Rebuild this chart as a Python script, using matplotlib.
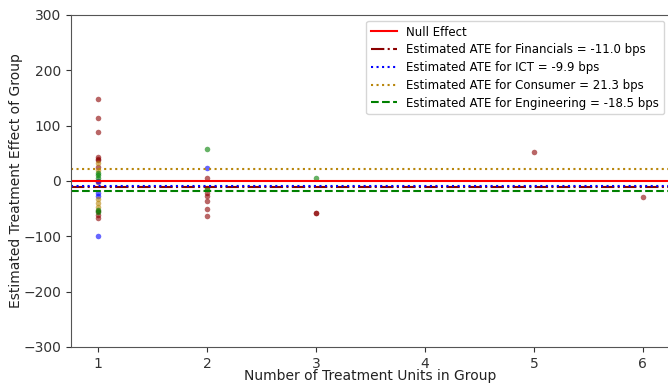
import matplotlib
matplotlib.use("Agg")
import matplotlib.pyplot as plt

# Data
fin_x = [1, 1, 1, 1, 1, 1, 1, 1, 1, 1, 1, 2, 2, 2, 2, 2, 2, 3, 3, 5, 6]
fin_y = [148, 114, 89, 43, 40, 38, 25, -2, -54, -61, -67, 5, -21, -28, -36, -51, -63, -57, -57, 52, -29]
ict_x = [1, 1, 1, 1, 2]
ict_y = [-100, -22, -27, 0, 23]
con_x = [1, 1, 1, 1, 1, 2]
con_y = [33, 20, -33, -40, -47, -12]
eng_x = [1, 1, 1, 1, 1, 2, 2, 3]
eng_y = [15, 11, 6, -52, -56, 58, -15, 5]

ate_labels = ["Financials", "ICT", "Consumer", "Engineering"]
ate_values = [-11.0, -9.9, 21.3, -18.5]

fig = plt.figure(figsize=(6.68, 3.85), dpi=100)
ax = fig.add_axes([71/668, 38/385, 599/668, 332/385])

ax.scatter(fin_x, fin_y, s=16, color="darkred", alpha=0.6, linewidths=0)
ax.scatter(ict_x, ict_y, s=16, color="blue", alpha=0.6, linewidths=0)
ax.scatter(con_x, con_y, s=16, color="darkgoldenrod", alpha=0.6, linewidths=0)
ax.scatter(eng_x, eng_y, s=16, color="green", alpha=0.6, linewidths=0)

ax.axhline(0, color="red", lw=1.5, label="Null Effect")
styles = [("darkred", "-."), ("blue", ":"), ("darkgoldenrod", ":"), ("green", "--")]
for (c, ls), name, v in zip(styles, ate_labels, ate_values):
    ax.axhline(v, color=c, ls=ls, lw=1.5, label=f"Estimated ATE for {name} = {v:.1f} bps")

ax.set_xlim(0.75, 6.25)
ax.set_ylim(-300, 300)
ax.set_xticks([1, 2, 3, 4, 5, 6])
ax.set_yticks([-300, -200, -100, 0, 100, 200, 300])
ax.tick_params(labelsize=10, colors="#333333")
for sp in ax.spines.values():
    sp.set_color("#555555")
ax.set_xlabel("Number of Treatment Units in Group", fontsize=10, color="#222222", labelpad=-1)
ax.set_ylabel("Estimated Treatment Effect of Group", fontsize=10, color="#222222", labelpad=0)
ax.legend(loc="upper right", fontsize=8.5, handlelength=2.2, labelspacing=0.4)

fig.savefig("out.png", dpi=100)
